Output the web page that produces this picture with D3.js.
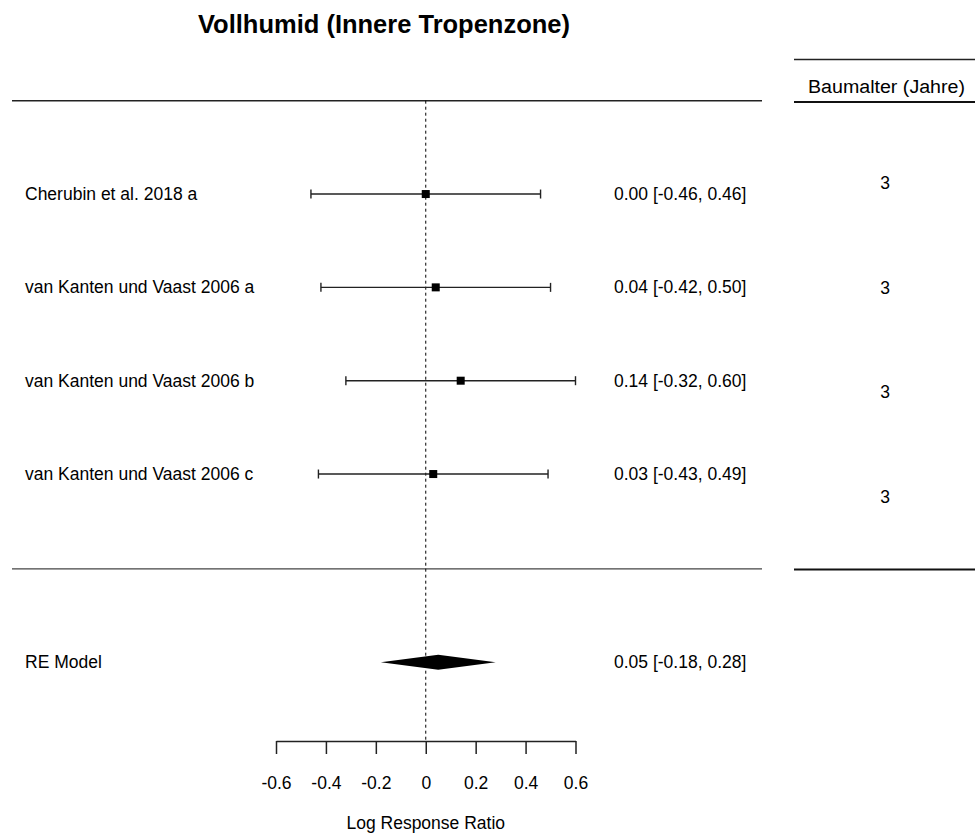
<!DOCTYPE html>
<html>
<head>
<meta charset="utf-8">
<script src="https://cdn.jsdelivr.net/npm/d3@7"></script>
<style>
  body { margin:0; background:#fff; }
  svg text { fill:#000; }
</style>
</head>
<body>
<svg id="chart" width="975" height="834"></svg>
<script>
// data
var studies   = ['Cherubin et al. 2018 a', 'van Kanten und Vaast 2006 a', 'van Kanten und Vaast 2006 b', 'van Kanten und Vaast 2006 c']
var estimates = [0.00, 0.04, 0.14, 0.03]
var lowers    = [-0.46, -0.42, -0.32, -0.43]
var uppers    = [0.46, 0.50, 0.60, 0.49]
var rows      = [4, 3, 2, 1]
var ages      = [3, 3, 3, 3]
var reModel   = [0.05, -0.18, 0.28]   // estimate, lower, upper
var xTicks    = [-0.6, -0.4, -0.2, 0, 0.2, 0.4, 0.6]

var svg = d3.select('#chart')
var sans = 'Liberation Sans, Arial, sans-serif'
var narrow = 'Liberation Sans Narrow, Liberation Sans, sans-serif'
var fs = '17.5px'

var x = d3.scaleLinear().domain([-0.6, 0.6]).range([276, 575.5])
var y = d3.scaleLinear().domain([5, -1]).range([100.7, 660.7])
var axisY = 741

var fmt = v=> v.toFixed(2)
var ciText = (e, l, u)=> fmt(e) + ' [' + fmt(l) + ', ' + fmt(u) + ']'

// title
svg.append('text')
    .attr('x', 198).attr('y', 33)
    .attr('textLength', 372).attr('lengthAdjust', 'spacingAndGlyphs')
    .style('font-family', narrow).style('font-weight', 'bold').style('font-size', '25px')
    .text('Vollhumid (Innere Tropenzone)')

// horizontal rules
svg.append('line')
    .attr('x1', 12).attr('x2', 762).attr('y1', y(5)).attr('y2', y(5))
    .style('stroke', '#222').style('stroke-width', 1.6)
svg.append('line')
    .attr('x1', 12).attr('x2', 762).attr('y1', y(0) + 1.5).attr('y2', y(0) + 1.5)
    .style('stroke', '#444').style('stroke-width', 1.2)

// reference line at 0
svg.append('line')
    .attr('x1', x(0)).attr('x2', x(0)).attr('y1', y(5)).attr('y2', axisY)
    .style('stroke', '#000').style('stroke-width', 1).style('stroke-dasharray', '3,3')

// study rows
var g = svg.selectAll('g.study')
    .data(studies.map((s, i)=> ({ name:s, est:estimates[i], lo:lowers[i], hi:uppers[i], row:rows[i] })))
    .enter().append('g').attr('class', 'study')

g.append('text')
    .attr('x', 25).attr('y', d=> y(d.row)).attr('dy', '0.35em')
    .style('font-family', sans).style('font-size', fs)
    .text(d=> d.name)

g.append('line')
    .attr('x1', d=> x(d.lo)).attr('x2', d=> x(d.hi))
    .attr('y1', d=> y(d.row)).attr('y2', d=> y(d.row))
    .style('stroke', '#222').style('stroke-width', 1.4)

g.each(function (d) {
    [d.lo, d.hi].forEach(v=> {
        d3.select(this).append('line')
            .attr('x1', x(v)).attr('x2', x(v))
            .attr('y1', y(d.row) - 4.5).attr('y2', y(d.row) + 4.5)
            .style('stroke', '#222').style('stroke-width', 1.4)
    })
})

g.append('rect')
    .attr('x', d=> x(d.est) - 4).attr('y', d=> y(d.row) - 4)
    .attr('width', 8).attr('height', 8)
    .style('fill', '#000')

g.append('text')
    .attr('x', 614).attr('y', d=> y(d.row)).attr('dy', '0.35em')
    .style('font-family', sans).style('font-size', fs)
    .text(d=> ciText(d.est, d.lo, d.hi))

// RE model diamond
var yRE = y(-1) + 1.5
svg.append('text')
    .attr('x', 25).attr('y', yRE).attr('dy', '0.35em')
    .style('font-family', sans).style('font-size', fs)
    .text('RE Model')

svg.append('path')
    .attr('d', 'M' + x(reModel[1]) + ',' + yRE
             + 'L' + x(reModel[0]) + ',' + (yRE - 7.5)
             + 'L' + x(reModel[2]) + ',' + yRE
             + 'L' + x(reModel[0]) + ',' + (yRE + 7.5) + 'Z')
    .style('fill', '#000')

svg.append('text')
    .attr('x', 614).attr('y', yRE).attr('dy', '0.35em')
    .style('font-family', sans).style('font-size', fs)
    .text(ciText(reModel[0], reModel[1], reModel[2]))

// x axis
var axis = svg.append('g')
    .attr('transform', 'translate(0,' + axisY + ')')
    .call(d3.axisBottom(x).tickValues(xTicks).tickSize(13).tickSizeOuter(0).tickPadding(23)
        .tickFormat(d=> d === 0 ? '0' : d.toFixed(1)))
axis.select('.domain').style('stroke', '#222').style('stroke-width', 1.5)
axis.selectAll('.tick line').style('stroke', '#222').style('stroke-width', 1.5)
axis.selectAll('.tick text')
    .style('font-family', sans).style('font-size', fs).style('fill', '#000')

svg.append('text')
    .attr('x', x(0)).attr('y', 829)
    .attr('text-anchor', 'middle')
    .style('font-family', sans).style('font-size', fs)
    .text('Log Response Ratio')

// right-hand table
svg.append('line')
    .attr('x1', 794).attr('x2', 975).attr('y1', 59.5).attr('y2', 59.5)
    .style('stroke', '#222').style('stroke-width', 1.5)
svg.append('text')
    .attr('x', 808).attr('y', 93)
    .attr('textLength', 157).attr('lengthAdjust', 'spacingAndGlyphs')
    .style('font-family', narrow).style('font-size', '18px')
    .text('Baumalter (Jahre)')
svg.append('line')
    .attr('x1', 794).attr('x2', 975).attr('y1', 102).attr('y2', 102)
    .style('stroke', '#111').style('stroke-width', 2.2)
svg.append('line')
    .attr('x1', 794).attr('x2', 975).attr('y1', 569.5).attr('y2', 569.5)
    .style('stroke', '#111').style('stroke-width', 2)

var yAge = d3.scaleLinear().domain([0, ages.length - 1]).range([183, 497])
svg.selectAll('text.age')
    .data(ages)
    .enter().append('text').attr('class', 'age')
    .attr('x', 885).attr('y', (d, i)=> yAge(i)).attr('dy', '0.35em')
    .attr('text-anchor', 'middle')
    .style('font-family', sans).style('font-size', fs)
    .text(d=> d)
</script>
</body>
</html>
